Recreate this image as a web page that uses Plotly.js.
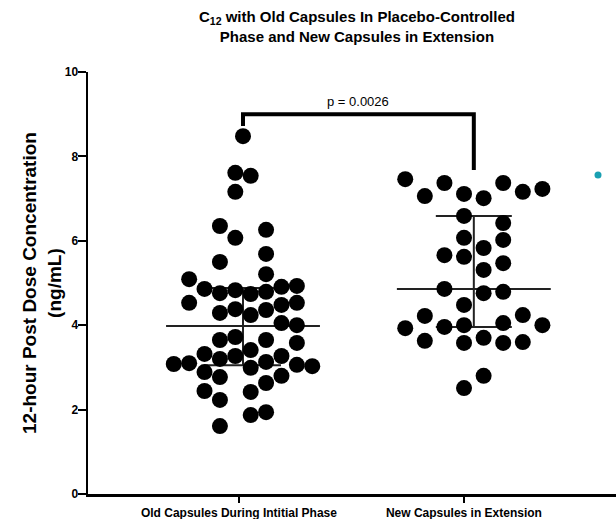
<!DOCTYPE html>
<html>
<head>
<meta charset="utf-8">
<script src="https://cdn.plot.ly/plotly-3.0.1.min.js"></script>
<style>html,body{margin:0;padding:0;background:#fff;}</style>
</head>
<body>
<div id="chart" style="width:616px;height:519px;"></div>
<script>
// Categories and tick labels
var categories = ["Old Capsules During Intitial Phase", "New Capsules in Extension"];
var chartTitle = "C<sub>12</sub> with Old Capsules In Placebo-Controlled<br>Phase and New Capsules in Extension";
var yTitle = "12-hour Post Dose Concentration<br>(ng/mL)";

// Old capsules: concentration values (ng/mL) and swarm slot (column)
var oldValues = [8.48, 7.61, 7.54, 7.16, 6.35, 6.07, 6.26, 5.50, 5.69, 5.21,
  5.09, 4.86, 4.76, 4.83, 4.74, 4.79, 4.91, 4.93, 4.53, 4.29,
  4.38, 4.24, 4.36, 4.48, 4.53, 4.05, 4.00, 3.65, 3.72, 3.65,
  3.58, 3.41, 3.32, 3.27, 3.20, 3.08, 3.10, 3.13, 3.27, 3.06,
  3.03, 2.99, 2.89, 2.77, 2.63, 2.80, 2.44, 2.23, 2.42, 1.87,
  1.94, 1.61];
var oldSlots = [0, -0.5, 0.5, -0.5, -1.5, -0.5, 1.5, -1.5, 1.5, 1.5,
  -3.5, -2.5, -1.5, -0.5, 0.5, 1.5, 2.5, 3.5, -3.5, -1.5,
  -0.5, 0.5, 1.5, 2.5, 3.5, 2.5, 3.5, -1.5, -0.5, 1.5,
  3.5, 0.5, -2.5, -0.5, -1.5, -4.5, -3.5, 1.5, 2.5, 3.5,
  4.5, 0.5, -2.5, -1.5, 1.5, 2.5, -2.5, -1.5, 0.5, 0.5,
  1.5, -1.5];

// New capsules
var newValues = [7.46, 7.06, 7.37, 7.11, 7.01, 7.37, 7.16, 7.23, 6.59, 6.42,
  6.07, 6.02, 5.66, 5.62, 5.83, 5.31, 5.47, 4.86, 4.76, 4.79,
  4.48, 4.22, 4.24, 3.93, 3.96, 4.00, 4.05, 4.00, 3.63, 3.58,
  3.70, 3.58, 3.60, 2.80, 2.51];
var newSlots = [-3.5, -2.5, -1.5, -0.5, 0.5, 1.5, 2.5, 3.5, -0.5, 1.5,
  -0.5, 1.5, -1.5, -0.5, 0.5, 0.5, 1.5, -1.5, 0.5, 1.5,
  -0.5, -2.5, 2.5, -3.5, -1.5, -0.5, 1.5, 3.5, -2.5, -0.5,
  0.5, 1.5, 2.5, 0.5, -0.5];

// Summary statistics: median and interquartile range
var medians = [3.98, 4.86];
var q1 = [3.05, 3.96];
var q3 = [4.88, 6.59];

// Significance bracket
var pText = "p = 0.0026";
var bracketTop = 9.0;
var bracketLegEnds = [8.72, 7.68];

// Stray legend marker (teal)
var tealX = [1.596];
var tealY = [7.56];

// ---- style / positioning ----
var centers = [0.018, 1.044];
var slotWidth = [0.0684, 0.0871];
var medHalf = 0.342;

function swarmX(slots, c, w) { return slots.map(function (s) { return c + s * w; }); }

var traces = [];
for (var i = 0; i < 2; i++) {
  traces.push({
    x: [centers[i] - medHalf, centers[i] + medHalf], y: [medians[i], medians[i]],
    mode: "lines", line: {color: "#222", width: 2}, hoverinfo: "skip", showlegend: false
  });
  traces.push({
    x: [centers[i]], y: [medians[i]], mode: "markers",
    marker: {size: 1, color: "rgba(0,0,0,0)"},
    error_y: {type: "data", symmetric: false, array: [q3[i] - medians[i]],
      arrayminus: [medians[i] - q1[i]], color: "#222", thickness: 2, width: 38},
    showlegend: false, hoverinfo: "skip"
  });
}
traces.push({
  x: swarmX(oldSlots, centers[0], slotWidth[0]), y: oldValues, mode: "markers",
  marker: {size: 16, color: "#000"}, showlegend: false, cliponaxis: false
});
traces.push({
  x: swarmX(newSlots, centers[1], slotWidth[1]), y: newValues, mode: "markers",
  marker: {size: 16, color: "#000"}, showlegend: false, cliponaxis: false
});
traces.push({
  x: [centers[0], centers[0], centers[1], centers[1]],
  y: [bracketLegEnds[0], bracketTop, bracketTop, bracketLegEnds[1]],
  mode: "lines", line: {color: "#000", width: 4}, showlegend: false, hoverinfo: "skip"
});
traces.push({
  x: tealX, y: tealY, mode: "markers", marker: {size: 7, color: "#1aa0b2"},
  showlegend: false, cliponaxis: false
});

var fontFam = "Liberation Sans, Arial, Helvetica, sans-serif";
var layout = {
  width: 616, height: 519,
  margin: {l: 88, r: 0, t: 72, b: 25},
  paper_bgcolor: "#fff", plot_bgcolor: "#fff",
  font: {family: fontFam, color: "#000"},
  xaxis: {
    range: [-0.671, 1.676], showgrid: false, zeroline: false,
    showline: true, linecolor: "#000", linewidth: 2.5,
    tickmode: "array", tickvals: [0, 1], ticktext: categories,
    ticks: "outside", ticklen: 6, tickwidth: 2, tickcolor: "#000",
    tickfont: {family: fontFam, size: 12, weight: "bold", color: "#000"}
  },
  yaxis: {
    range: [0, 10], showgrid: false, zeroline: false,
    showline: true, linecolor: "#000", linewidth: 2.5,
    tickmode: "array", tickvals: [0, 2, 4, 6, 8, 10],
    ticks: "outside", ticklen: 8, tickwidth: 2, tickcolor: "#000",
    ticklabelstandoff: -3,
    tickfont: {family: fontFam, size: 12, weight: "bold", color: "#000"}
  },
  annotations: [
    {
      x: (centers[0] + centers[1]) / 2, y: bracketTop, xref: "x", yref: "y",
      text: pText, showarrow: false, yanchor: "bottom", yshift: 3,
      font: {family: fontFam, size: 13, color: "#000"}
    },
    {
      x: 0.5, y: 1, xref: "paper", yref: "paper", xanchor: "center", yanchor: "bottom",
      xshift: 5, yshift: 25, showarrow: false, text: chartTitle,
      font: {family: fontFam, size: 15, weight: "bold", color: "#000"}
    },
    {
      x: 0, y: 0.5, xref: "paper", yref: "paper", xanchor: "center", yanchor: "middle",
      xshift: -46, showarrow: false, textangle: -90, text: yTitle,
      font: {family: fontFam, size: 19, weight: "bold", color: "#000"}
    }
  ]
};

Plotly.newPlot("chart", traces, layout, {staticPlot: true, displayModeBar: false});
</script>
</body>
</html>
